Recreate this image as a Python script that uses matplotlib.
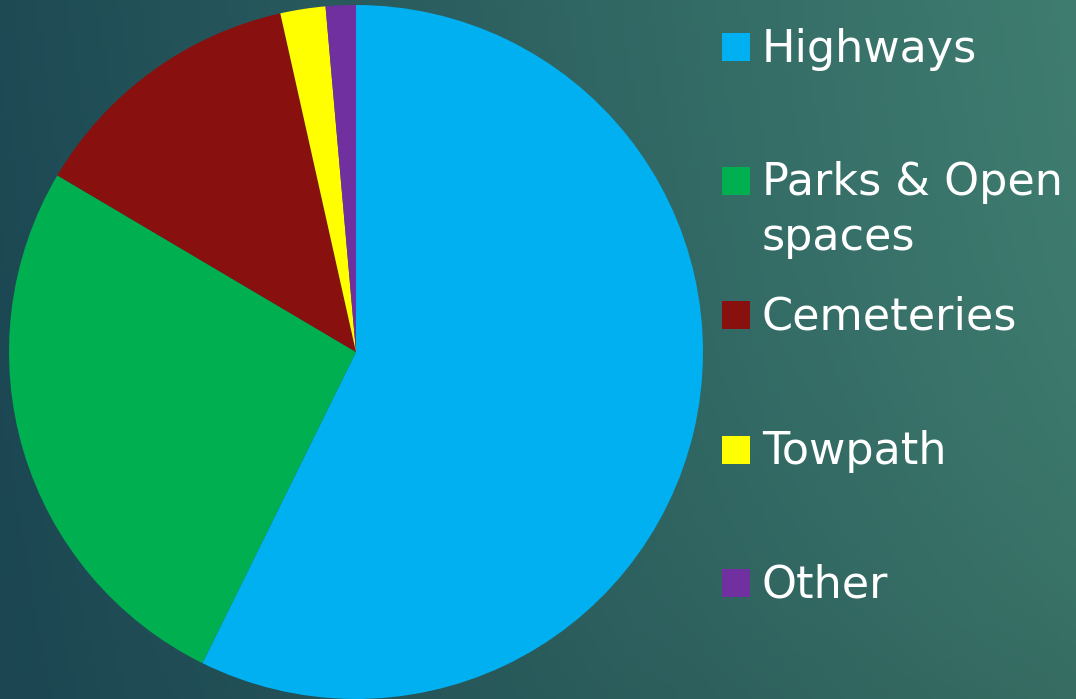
import numpy as np
import matplotlib.pyplot as plt
from matplotlib.patches import Rectangle

# data
labels = ['Highways', 'Parks & Open\nspaces', 'Cemeteries', 'Towpath', 'Other']
shares = [57.3, 26.2, 13.0, 2.1, 1.4]
colors = ['#00B0F0', '#00B050', '#88100E', '#FFFF00', '#7030A0']

W, H = 1076, 699
fig = plt.figure(figsize=(W / 100, H / 100), dpi=100)

# background gradient, dark teal on the left to lighter green-teal on the right
bg = fig.add_axes([0, 0, 1, 1])
xx, yy = np.meshgrid(np.linspace(0, 1, 200), np.linspace(0, 1, 130))
left = np.array([27, 70, 82]) / 255
right = np.array([64, 126, 112]) / 255
t = np.clip(xx * 0.9 + (1 - yy) * 0.08, 0, 1)
img = left[None, None, :] * (1 - t[..., None]) + right[None, None, :] * t[..., None]
# a little darker towards the bottom right
img *= (1 - 0.1 * (yy[..., None] ** 3) * xx[..., None])
bg.imshow(img, aspect='auto', extent=[0, 1, 0, 1], origin='upper')
bg.axis('off')

# pie
cx, cy, r = 356, 352, 347
ax = fig.add_axes([(cx - r) / W, (H - cy - r) / H, 2 * r / W, 2 * r / H])
ax.pie(shares, colors=colors, startangle=90, counterclock=False,
       radius=1, wedgeprops=dict(linewidth=0))
ax.set_xlim(-1, 1)
ax.set_ylim(-1, 1)
ax.axis('off')

# legend, drawn by hand (pixel positions from the top)
marker_y = [47, 181, 315, 450, 583]
baseline_y = [62, 195, 330, 464, 598]
line_gap = 55
for lab, col, my, by in zip(labels, colors, marker_y, baseline_y):
    fig.patches.append(Rectangle((722 / W, (H - my - 14) / H), 28 / W, 28 / H,
                                 transform=fig.transFigure, facecolor=col,
                                 edgecolor='none'))
    for i, line in enumerate(lab.split('\n')):
        fig.text(762 / W, (H - by - i * line_gap) / H, line, color='white',
                 fontsize=32, family=['DejaVu Sans'], va='baseline')

fig.savefig('out.png', dpi=100)
